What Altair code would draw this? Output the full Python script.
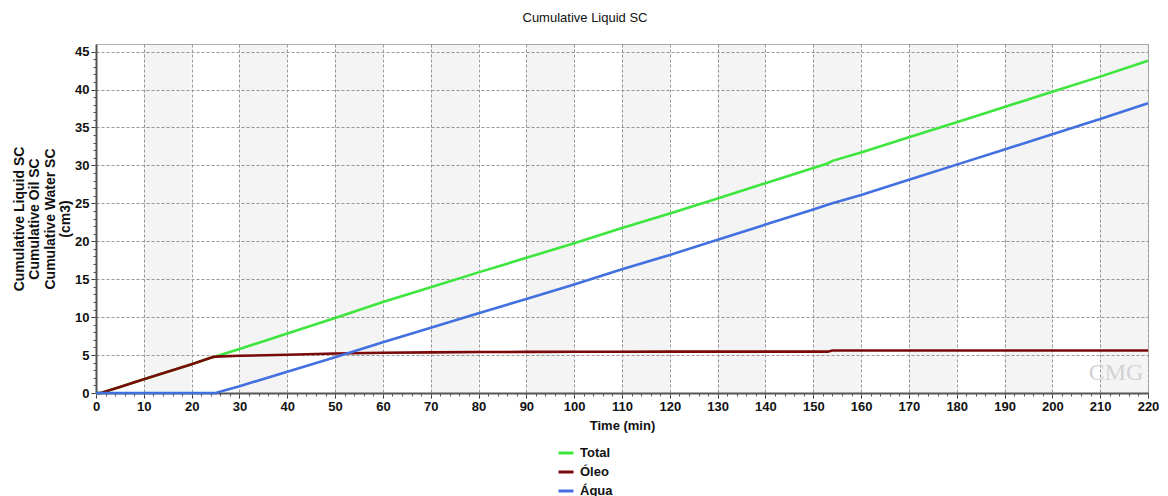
import altair as alt
import pandas as pd

# ---- data ----
time_min = [0, 1, 5, 10, 15, 20, 24, 25, 30, 40, 50, 60, 70, 80, 90, 100, 110, 120,
            130, 140, 150, 153, 154, 160, 170, 180, 190, 200, 210, 220]
oleo = [0.0, 0.0, 0.8, 1.8, 2.8, 3.8, 4.65, 4.8, 4.9, 5.05, 5.2, 5.3, 5.35, 5.4, 5.42, 5.43, 5.44, 5.45,
        5.45, 5.45, 5.45, 5.45, 5.6, 5.6, 5.6, 5.6, 5.6, 5.6, 5.6, 5.6]
agua = [0.0, 0.0, 0.0, 0.0, 0.0, 0.0, 0.0, 0.0, 0.9, 2.8, 4.7, 6.7, 8.6, 10.5, 12.4, 14.3, 16.3, 18.2,
        20.2, 22.2, 24.2, 24.8, 25.0, 26.1, 28.1, 30.1, 32.1, 34.1, 36.1, 38.2]
total = [round(o + a, 2) for o, a in zip(oleo, agua)]

series_names = ["Total", "Óleo", "Água"]
series_colors = ["#3ce63c", "#7a0a0a", "#4270e0"]

band_start = [10, 30, 50, 70, 90, 110, 130, 150, 170, 190, 210]
band_end = [20, 40, 60, 80, 100, 120, 140, 160, 180, 200, 220]

x_major = list(range(0, 221, 10))
x_minor = list(range(0, 221, 2))
y_major = list(range(0, 46, 5))
y_minor = list(range(0, 46, 1))

rows = []
for i, t in enumerate(time_min):
    rows.append({"t": t, "serie": "Total", "v": total[i]})
    rows.append({"t": t, "serie": "Óleo", "v": oleo[i]})
    rows.append({"t": t, "serie": "Água", "v": agua[i]})
df = pd.DataFrame(rows)
bands = pd.DataFrame({"a": band_start, "b": band_end})

FONT = "Liberation Sans"
W, H = 1052, 349

xscale = alt.Scale(domain=[0, 220], nice=False, zero=False)
yscale = alt.Scale(domain=[0, 46], nice=False)

band_layer = alt.Chart(bands).mark_rect(fill="#000000", opacity=0.045).encode(
    x=alt.X("a:Q", scale=xscale, axis=None),
    x2="b:Q",
    y=alt.value(0),
    y2=alt.value(H),
)

lines = alt.Chart(df).mark_line(strokeWidth=2.6).encode(
    x=alt.X("t:Q", scale=xscale,
            axis=alt.Axis(values=x_major, title="Time (min)", orient="bottom",
                          grid=True, gridDash=[3, 2], gridColor="#9a9a9a", gridWidth=1,
                          labelFont=FONT, labelFontSize=13, labelFontWeight="bold", labelColor="#111111",
                          labelPadding=2, labelFlush=False,
                          titleFont=FONT, titleFontSize=13, titleFontWeight="bold", titleColor="#111111",
                          titlePadding=6,
                          tickSize=5, tickColor="#333333", domainColor="#555555", domainWidth=2)),
    y=alt.Y("v:Q", scale=yscale,
            axis=alt.Axis(values=y_major, orient="left",
                          title=["Cumulative Liquid SC", "Cumulative Oil SC", "Cumulative Water SC", "(cm3)"],
                          grid=True, gridDash=[3, 2], gridColor="#9a9a9a", gridWidth=1,
                          labelFont=FONT, labelFontSize=13, labelFontWeight="bold", labelColor="#111111",
                          labelPadding=2, labelFlush=False,
                          titleFont=FONT, titleFontSize=14, titleFontWeight="bold", titleColor="#111111",
                          titleLineHeight=15.5, titlePadding=2,
                          tickSize=5, tickColor="#333333", domainColor="#555555", domainWidth=2)),
    color=alt.Color("serie:N",
                    scale=alt.Scale(domain=series_names, range=series_colors),
                    sort=series_names,
                    legend=alt.Legend(title=None, orient="none", legendX=461, legendY=400,
                                      direction="vertical", symbolType="stroke", symbolSize=225,
                                      symbolStrokeWidth=3, labelFont=FONT, labelFontSize=13,
                                      labelFontWeight="bold", labelColor="#111111", labelOffset=5,
                                      rowPadding=3, padding=0)),
    detail="serie:N",
)

minor = alt.Chart(df).mark_line(opacity=0).encode(
    x=alt.X("t:Q", scale=xscale,
            axis=alt.Axis(values=x_minor, orient="bottom", title=None, labels=False, grid=False,
                          domain=False, tickSize=3, tickColor="#555555")),
    y=alt.Y("v:Q", scale=yscale,
            axis=alt.Axis(values=y_minor, orient="left", title=None, labels=False, grid=False,
                          domain=False, tickSize=3, tickColor="#555555")),
    detail="serie:N",
)

logo = alt.Chart(pd.DataFrame({"s": ["CMG"]})).mark_text(
    font="Liberation Serif", fontSize=24, color="#d2d2d2", align="center", baseline="middle"
).encode(text="s:N", x=alt.value(1020), y=alt.value(329))

chart = alt.layer(band_layer, lines, minor, logo).resolve_axis(
    x="independent", y="independent"
).properties(
    width=W, height=H,
    title=alt.TitleParams("Cumulative Liquid SC", font=FONT, fontSize=13, fontWeight="normal",
                          color="#111111", anchor="middle", dx=-37, dy=16, offset=22, baseline="bottom"),
    autosize=alt.AutoSizeParams(type="none"),
    padding={"left": 88, "top": 36, "right": 12, "bottom": 110},
).configure_view(stroke="#b0b0b0", strokeWidth=1, fill="white")

chart.save("out.html", embed_options={"renderer": "svg", "actions": False})
